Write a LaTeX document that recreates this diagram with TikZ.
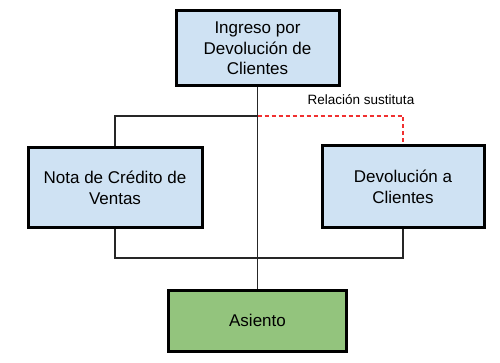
\documentclass[tikz,border=0pt]{standalone}
\usepackage{fontspec}
\setmainfont{Liberation Sans}
\definecolor{boxblue}{HTML}{CFE2F3}
\definecolor{boxgreen}{HTML}{93C47D}
\definecolor{relred}{HTML}{F03030}
\begin{document}
\begin{tikzpicture}[x=1pt,y=-1pt,
  entity/.style={draw=black,line width=3pt,align=center,inner sep=2pt,
    font=\fontsize{17}{20.5}\selectfont},
  conn/.style={line width=1.3pt,draw=black!85},
  subst/.style={line width=1.3pt,draw=relred,dash pattern=on 4pt off 3pt}]
\useasboundingbox[fill=white] (0,0) rectangle (500,363);
\node[entity,fill=boxblue,minimum width=163pt,minimum height=75pt] (top) at (257.5,48.5) {Ingreso por\\Devolución de\\Clientes};
\node[entity,fill=boxblue,minimum width=174pt,minimum height=80pt] (left) at (115,188) {Nota de Crédito de\\Ventas};
\node[entity,fill=boxblue,minimum width=162pt,minimum height=82pt] (right) at (403,187) {Devolución a\\Clientes};
\node[entity,fill=boxgreen,minimum width=178pt,minimum height=61pt] (bottom) at (257.5,320.5) {Asiento};
\coordinate (jc) at (257.5,116);
\coordinate (bc) at (257.5,258);
\draw[subst] (jc) -| (right.north);
\draw[conn] (top.south) -- (bottom.north);
\draw[conn] (jc) -| (left.north);
\draw[conn] (left.south) |- (bc) -| (right.south);
\node[font=\fontsize{13.5}{16}\selectfont,inner sep=0pt] (lbl) at (361,99.5) {Relación sustituta};
\end{tikzpicture}
\end{document}
